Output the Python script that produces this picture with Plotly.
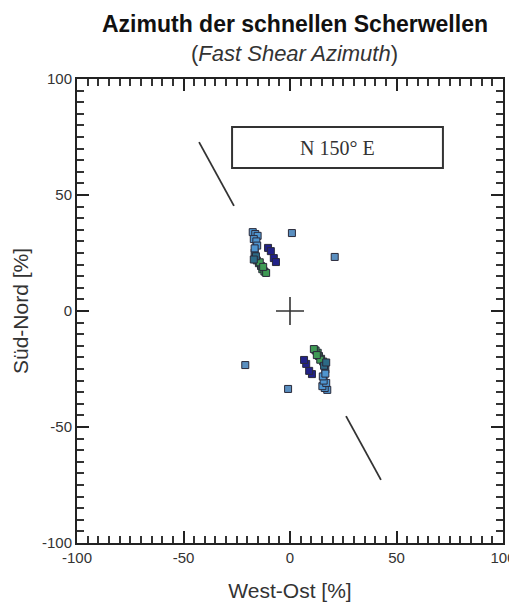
import plotly.graph_objects as go

# ---- data (percent, West-Ost / Süd-Nord) ----
light_x = [-17.5, -16.3, -15.2, -17.0, -15.8, -15.4, -16.6, 17.5, 16.3, 15.2, 17.0, 15.8, 15.4, 16.6]
light_y = [34.0, 33.2, 32.4, 31.0, 30.0, 28.2, 27.0, -34.0, -33.2, -32.4, -31.0, -30.0, -28.2, -27.0]
teal_x = [-16.6, -16.0, -17.0, 16.6, 16.0, 17.0]
teal_y = [25.2, 23.6, 22.2, -25.2, -23.6, -22.2]
green_x = [-15.6, -14.6, -13.6, -13.0, -12.0, -11.2, -14.2, -12.6, 15.6, 14.6, 13.6, 13.0, 12.0, 11.2, 14.2, 12.6]
green_y = [21.8, 20.6, 19.4, 18.0, 17.0, 16.4, 21.0, 19.0, -21.8, -20.6, -19.4, -18.0, -17.0, -16.4, -21.0, -19.0]
navy_x = [-10.3, -9.0, -7.6, -6.6, 10.3, 9.0, 7.6, 6.6]
navy_y = [27.2, 25.8, 22.8, 21.1, -27.2, -25.8, -22.8, -21.1]
single_x = [0.9, 21.0, -0.9, -21.0]
single_y = [33.6, 23.3, -33.6, -23.3]
center_x = [0]
center_y = [0]
dir_upper_x = [-42.7, -26.3]
dir_upper_y = [72.8, 45.3]
dir_lower_x = [26.3, 42.7]
dir_lower_y = [-45.3, -72.8]
label_box_x = [-27.2, 71.8]
label_box_y = [61.6, 79.3]
label_text = "N 150° E"
tick_vals = [-100, -50, 0, 50, 100]
tick_text = ["-100", "-50", "0", "50", "100"]

fig = go.Figure()

def sq(x, y, color):
    fig.add_trace(go.Scatter(x=x, y=y, mode="markers",
                             marker=dict(symbol="square", size=7, color=color,
                                         line=dict(color="#2a2a3a", width=1)),
                             showlegend=False, hoverinfo="skip"))

sq(green_x, green_y, "#3f9a55")
sq(teal_x, teal_y, "#2c6a86")
sq(light_x, light_y, "#4f95cf")
sq(navy_x, navy_y, "#222288")
sq(single_x, single_y, "#5a8fc0")

fig.add_trace(go.Scatter(x=center_x, y=center_y, mode="markers",
                         marker=dict(symbol="cross-thin", size=20,
                                     line=dict(color="#333333", width=1.6)),
                         showlegend=False, hoverinfo="skip"))
for lx, ly in [(dir_upper_x, dir_upper_y), (dir_lower_x, dir_lower_y)]:
    fig.add_trace(go.Scatter(x=lx, y=ly, mode="lines",
                             line=dict(color="#333333", width=1.8),
                             showlegend=False, hoverinfo="skip"))

fig.add_shape(type="rect", xref="x", yref="y",
              x0=label_box_x[0], x1=label_box_x[1], y0=label_box_y[0], y1=label_box_y[1],
              line=dict(color="#333333", width=2), fillcolor="white", layer="below")
fig.add_annotation(x=(label_box_x[0] + label_box_x[1]) / 2, y=(label_box_y[0] + label_box_y[1]) / 2,
                   xref="x", yref="y", text=label_text, showarrow=False,
                   font=dict(family="Liberation Serif", size=20, color="#333333"))

fig.add_annotation(xref="paper", yref="paper", x=0.512, y=1.1185, text="<b>Azimuth der schnellen Scherwellen</b>",
                   showarrow=False, yanchor="middle",
                   font=dict(family="Liberation Sans", size=23, color="#111111"))
fig.add_annotation(xref="paper", yref="paper", x=0.51, y=1.056, text="(<i>Fast Shear Azimuth</i>)",
                   showarrow=False, yanchor="middle",
                   font=dict(family="Liberation Sans", size=22, color="#333333"))

axis_common = dict(range=[-100, 100], tickmode="array", tickvals=tick_vals, ticktext=tick_text,
                   ticks="inside", ticklen=12, tickwidth=2, automargin=False,
                   tickcolor="#222222", showline=True, linewidth=2, linecolor="#222222",
                   mirror="allticks", showgrid=False, zeroline=False,
                   minor=dict(dtick=5, tick0=0, ticks="inside", ticklen=7, tickwidth=1.5, tickcolor="#333333"),
                   tickfont=dict(family="Liberation Sans", size=15, color="#333333"))

# page body adds an 8px margin; the figure is sized so the plot area lands where the reference has it
fig.update_layout(
    width=509, height=598,
    margin=dict(l=69, r=14, t=71, b=63),
    paper_bgcolor="white", plot_bgcolor="white",
    xaxis=dict(**axis_common,
               title=dict(text="West-Ost [%]", standoff=18,
                          font=dict(family="Liberation Sans", size=21, color="#333333"))),
    yaxis=dict(**axis_common,
               title=dict(text="Süd-Nord [%]", standoff=8,
                          font=dict(family="Liberation Sans", size=21, color="#333333"))),
)

fig.write_html("out.html")
